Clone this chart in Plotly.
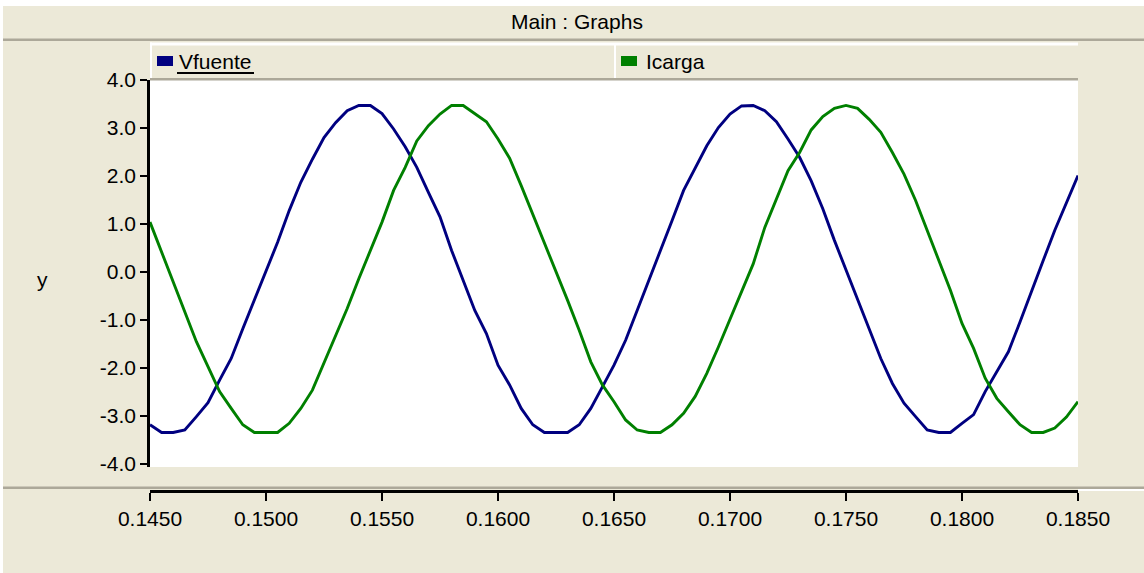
import plotly.graph_objects as go

W, H = 1144, 573

# ---- data ----
time_s = [0.1450, 0.1455, 0.1460, 0.1465, 0.1470, 0.1475, 0.1480, 0.1485, 0.1490, 0.1495,
          0.1500, 0.1505, 0.1510, 0.1515, 0.1520, 0.1525, 0.1530, 0.1535, 0.1540, 0.1545,
          0.1550, 0.1555, 0.1560, 0.1565, 0.1570, 0.1575, 0.1580, 0.1585, 0.1590, 0.1595,
          0.1600, 0.1605, 0.1610, 0.1615, 0.1620, 0.1625, 0.1630, 0.1635, 0.1640, 0.1645,
          0.1650, 0.1655, 0.1660, 0.1665, 0.1670, 0.1675, 0.1680, 0.1685, 0.1690, 0.1695,
          0.1700, 0.1705, 0.1710, 0.1715, 0.1720, 0.1725, 0.1730, 0.1735, 0.1740, 0.1745,
          0.1750, 0.1755, 0.1760, 0.1765, 0.1770, 0.1775, 0.1780, 0.1785, 0.1790, 0.1795,
          0.1800, 0.1805, 0.1810, 0.1815, 0.1820, 0.1825, 0.1830, 0.1835, 0.1840, 0.1845,
          0.1850]

vfuente = [-3.18, -3.34, -3.34, -3.29, -3.01, -2.72, -2.25, -1.80, -1.18, -0.59,
           0.04, 0.62, 1.28, 1.87, 2.35, 2.80, 3.11, 3.36, 3.47, 3.47,
           3.30, 2.98, 2.61, 2.18, 1.66, 1.15, 0.45, -0.17, -0.80, -1.28,
           -1.94, -2.35, -2.84, -3.18, -3.34, -3.34, -3.34, -3.18, -2.84, -2.39,
           -1.94, -1.42, -0.80, -0.21, 0.45, 1.07, 1.70, 2.18, 2.63, 3.01,
           3.29, 3.46, 3.47, 3.36, 3.13, 2.77, 2.39, 1.90, 1.32, 0.66,
           0.04, -0.59, -1.21, -1.80, -2.32, -2.73, -3.01, -3.29, -3.34, -3.34,
           -3.15, -2.97, -2.49, -2.08, -1.66, -1.04, -0.38, 0.24, 0.87, 1.45,
           2.01]

icarga = [1.04, 0.42, -0.17, -0.80, -1.45, -1.97, -2.49, -2.84, -3.18, -3.34,
          -3.34, -3.34, -3.15, -2.84, -2.46, -1.90, -1.35, -0.76, -0.14, 0.45,
          1.04, 1.70, 2.18, 2.73, 3.05, 3.29, 3.47, 3.47, 3.30, 3.13,
          2.77, 2.37, 1.80, 1.21, 0.62, 0.04, -0.59, -1.21, -1.87, -2.35,
          -2.70, -3.08, -3.29, -3.34, -3.34, -3.18, -2.94, -2.59, -2.11, -1.56,
          -0.97, -0.42, 0.17, 0.93, 1.52, 2.11, 2.49, 2.96, 3.24, 3.41,
          3.47, 3.41, 3.18, 2.91, 2.49, 2.04, 1.49, 0.87, 0.21, -0.38,
          -1.07, -1.59, -2.21, -2.63, -2.91, -3.18, -3.34, -3.34, -3.25, -3.02,
          -2.70]

series_names = ["Vfuente", "Icarga"]
x_tick_vals = [0.145, 0.150, 0.155, 0.160, 0.165, 0.170, 0.175, 0.180, 0.185]
x_tick_text = ["0.1450", "0.1500", "0.1550", "0.1600", "0.1650", "0.1700", "0.1750", "0.1800", "0.1850"]
y_tick_vals = [-4, -3, -2, -1, 0, 1, 2, 3, 4]
y_tick_text = ["-4.0", "-3.0", "-2.0", "-1.0", "0.0", "1.0", "2.0", "3.0", "4.0"]
title_text = "Main : Graphs"
y_label = "y"

# ---- styling ----
BEIGE = "#ECE9D8"
GRAY = "#ACA899"
NAVY = "#000080"
GREEN = "#008000"
FONT = "Liberation Sans, Arial, sans-serif"
FS = 21


def px(x):
    return x / W


def py(y):
    return 1 - y / H


fig = go.Figure()
fig.add_trace(go.Scatter(x=time_s, y=vfuente, mode="lines", name=series_names[0],
                         line=dict(color=NAVY, width=2.9), showlegend=False))
fig.add_trace(go.Scatter(x=time_s, y=icarga, mode="lines", name=series_names[1],
                         line=dict(color=GREEN, width=2.9), showlegend=False))

shapes = []


def rect(x0, y0, x1, y1, color):
    shapes.append(dict(type="rect", xref="paper", yref="paper",
                       x0=px(x0), x1=px(x1), y0=py(y1), y1=py(y0),
                       fillcolor=color, line=dict(width=0), layer="above"))


# window frame pieces
rect(0, 0, W, 6, "white")
rect(0, 0, 3, H, "white")
rect(3, 38.5, W, 41, GRAY)
# legend box
rect(150, 42.5, 1078, 45.5, "white")
rect(150, 42.5, 152, 78, "white")
rect(614, 45, 616, 78, "white")
rect(150, 78, 1078, 80.5, GRAY)
# legend swatches
rect(157, 56, 173, 66, NAVY)
rect(621, 56, 637, 66, GREEN)
# underline of first legend text
rect(177, 72, 254, 74, "black")
# lower separator
rect(3, 486.5, W, 489, GRAY)
rect(1078, 489, W, 491, "white")

annotations = [
    dict(text=title_text, x=px(577), y=py(22), xref="paper", yref="paper",
         xanchor="center", yanchor="middle", showarrow=False,
         font=dict(family=FONT, size=FS, color="black")),
    dict(text=series_names[0], x=px(177), y=py(62), xref="paper", yref="paper",
         xanchor="left", yanchor="middle", showarrow=False,
         font=dict(family=FONT, size=FS, color="black")),
    dict(text=series_names[1], x=px(644), y=py(62), xref="paper", yref="paper",
         xanchor="left", yanchor="middle", showarrow=False,
         font=dict(family=FONT, size=FS, color="black")),
    dict(text=y_label, x=px(42), y=py(279), xref="paper", yref="paper",
         xanchor="center", yanchor="middle", showarrow=False,
         font=dict(family=FONT, size=FS, color="black")),
]

fig.update_layout(
    width=W, height=H, autosize=False,
    margin=dict(l=0, r=0, t=0, b=0, pad=0, autoexpand=False),
    paper_bgcolor=BEIGE,
    plot_bgcolor="white",
    font=dict(family=FONT, size=FS, color="black"),
    showlegend=False,
    shapes=shapes,
    annotations=annotations,
    xaxis=dict(
        domain=[px(150), px(1078)],
        range=[0.145, 0.185],
        anchor="free", position=py(491),
        automargin=False,
        showgrid=False, zeroline=False,
        showline=True, linecolor="black", linewidth=2.5,
        ticks="outside", ticklen=8, tickwidth=2, tickcolor="black",
        tickvals=x_tick_vals, ticktext=x_tick_text,
        tickfont=dict(family=FONT, size=FS, color="black"),
        fixedrange=True,
    ),
    yaxis=dict(
        domain=[py(467), py(80)],
        range=[-4.06, 4.0],
        automargin=False,
        showgrid=False, zeroline=False,
        showline=True, linecolor="black", linewidth=2.5,
        ticks="outside", ticklen=7, tickwidth=2, tickcolor="black",
        tickvals=y_tick_vals, ticktext=y_tick_text,
        tickfont=dict(family=FONT, size=FS, color="black"),
        fixedrange=True,
    ),
)

fig.write_html("out.html")
